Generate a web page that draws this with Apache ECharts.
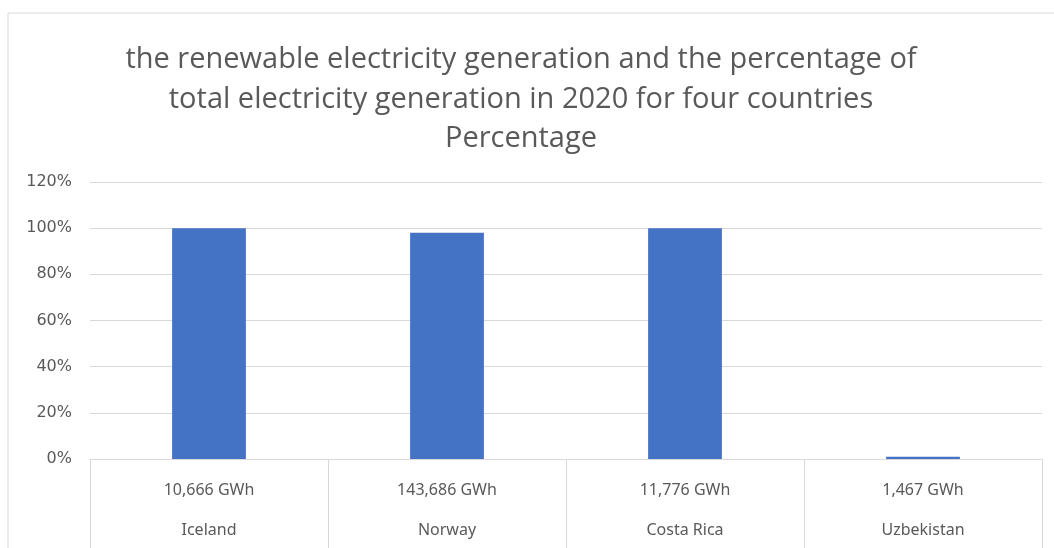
<!DOCTYPE html>
<html><head><meta charset="utf-8">
<script src="https://cdn.jsdelivr.net/npm/echarts@6/dist/echarts.min.js"></script>
<style>html,body{margin:0;padding:0;background:#fff}#c{width:1054px;height:548px}</style>
</head><body><div id="c"></div>
<script>
const countries = ['Iceland', 'Norway', 'Costa Rica', 'Uzbekistan'];
const generation = ['10,666 GWh', '143,686 GWh', '11,776 GWh', '1,467 GWh'];
const percentage = [100, 98, 100, 1];
const yTicks = [0, 20, 40, 60, 80, 100, 120];
const titleText = 'the renewable electricity generation and the percentage of\ntotal electricity generation in 2020 for four countries\nPercentage';

const chart = echarts.init(document.getElementById('c'));
chart.setOption({
  animation: false,
  backgroundColor: '#fff',
  title: {
    text: titleText,
    left: 516, top: 35, textAlign: 'center',
    textStyle: { fontFamily: 'Open Sans', fontSize: 29, fontWeight: 'normal', color: '#595959', lineHeight: 39.5 }
  },
  graphic: [{ type: 'rect', shape: { x: 8, y: 13, width: 1080, height: 600 }, style: { fill: 'none', stroke: '#d9d9d9', lineWidth: 1 }, silent: true }],
  grid: { left: 90, right: 12, top: 182, bottom: 89 },
  xAxis: {
    type: 'category',
    data: countries,
    axisLine: { lineStyle: { color: '#d9d9d9' } },
    axisTick: { show: true, interval: 0, length: 90, lineStyle: { color: '#d9d9d9' } },
    axisLabel: {
      interval: 0, margin: 11,
      formatter: (v, i) => '{a|' + generation[i] + '}\n{b|' + v + '}',
      rich: {
        a: { fontFamily: 'Noto Sans', fontSize: 16, color: '#595959', lineHeight: 40 },
        b: { fontFamily: 'Noto Sans', fontSize: 16, color: '#595959', lineHeight: 40 }
      }
    }
  },
  yAxis: {
    type: 'value', min: yTicks[0], max: yTicks[yTicks.length - 1], interval: 20,
    axisLine: { show: false }, axisTick: { show: false },
    splitLine: { lineStyle: { color: '#d9d9d9' } },
    axisLabel: { formatter: '{value}%', fontFamily: 'DejaVu Sans', fontSize: 16, color: '#595959', margin: 18 }
  },
  series: [{
    type: 'bar', data: percentage, barWidth: '31%',
    itemStyle: { color: '#4472C4' }
  }]
});
</script></body></html>
